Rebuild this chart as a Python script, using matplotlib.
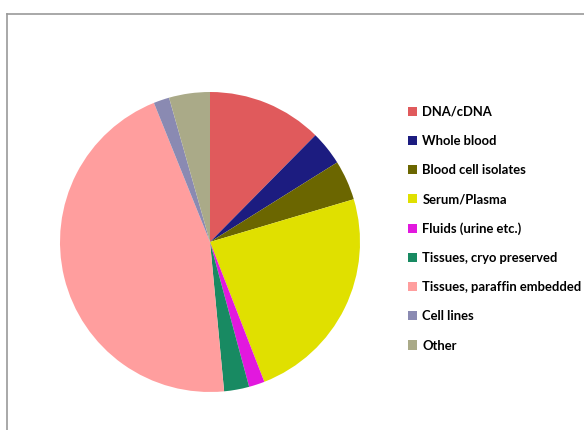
import matplotlib
matplotlib.use("Agg")
import matplotlib.pyplot as plt
from matplotlib.lines import Line2D

# Sample types, clockwise from 12 o'clock (share in %)
labels = ["DNA/cDNA", "Whole blood", "Blood cell isolates", "Serum/Plasma",
          "Fluids (urine etc.)", "Tissues, cryo preserved",
          "Tissues, paraffin embedded", "Cell lines", "Other"]
shares = [12.4, 3.7, 4.3, 23.7, 1.7, 2.7, 45.4, 1.7, 4.4]
colors = ["#E05A5C", "#1C1C80", "#6B6600", "#E0E000", "#E218DE",
          "#188A62", "#FF9E9E", "#8A8AB2", "#AAAA88"]

W, H = 584, 430
fig = plt.figure(figsize=(W / 100, H / 100), dpi=100)
fig.patch.set_facecolor("white")

# pie: centre (210, 242) px, radius 150 px
cx, cy, r = 210, 242, 150
ax = fig.add_axes([(cx - r) / W, (H - cy - r) / H, 2 * r / W, 2 * r / H])
wedges, _ = ax.pie(shares, colors=colors, startangle=90, counterclock=False,
                   wedgeprops=dict(linewidth=0))
ax.set_xlim(-1, 1)
ax.set_ylim(-1, 1)
ax.set_aspect("equal")
ax.axis("off")

# legend
leg = fig.legend(wedges, labels, loc="upper left",
                 bbox_to_anchor=(408 / W, 1 - 106 / H),
                 frameon=False, borderpad=0, borderaxespad=0,
                 labelspacing=1.31, handlelength=0.7, handleheight=0.7,
                 handletextpad=0.4,
                 prop=dict(family="Lato", weight="bold", size=9.4))

# outer grey frame (top and left edges visible)
fig.add_artist(Line2D([7 / W, 1], [1 - 14 / H, 1 - 14 / H],
                      transform=fig.transFigure, color="#9a9a9a", lw=1.2))
fig.add_artist(Line2D([7 / W, 7 / W], [0, 1 - 14 / H],
                      transform=fig.transFigure, color="#9a9a9a", lw=1.2))

fig.savefig("out.png", dpi=100)
